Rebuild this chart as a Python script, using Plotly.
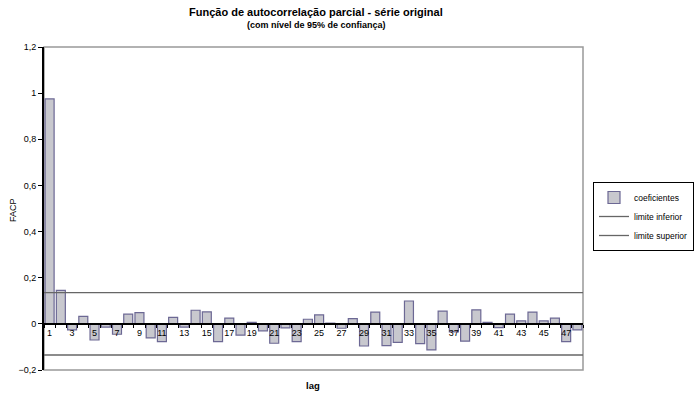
import plotly.graph_objects as go

lags = list(range(1, 49))
coeficientes = [0.975, 0.145, -0.026, 0.032, -0.070, -0.014, -0.045, 0.042, 0.049, -0.061,
                -0.077, 0.028, -0.014, 0.059, 0.052, -0.077, 0.025, -0.049, 0.006, -0.030,
                -0.084, -0.017, -0.077, 0.020, 0.039, 0.003, -0.019, 0.023, -0.096, 0.051,
                -0.094, -0.080, 0.099, -0.086, -0.113, 0.055, -0.035, -0.075, 0.061, 0.006,
                -0.016, 0.042, 0.013, 0.051, 0.013, 0.025, -0.077, -0.026]
limite_inferior = -0.135
limite_superior = 0.135
tick_lags = [l for l in lags if l % 2 == 1]
y_ticks = [-0.2, 0, 0.2, 0.4, 0.6, 0.8, 1, 1.2]

x_span = [lags[0] - 0.5, lags[-1] + 0.5]

fig = go.Figure()
fig.add_trace(go.Bar(
    x=lags, y=coeficientes, name="coeficientes", width=0.8,
    marker=dict(color="#C8C8CE", line=dict(color="#6C6894", width=1.2)),
))
fig.add_trace(go.Scatter(
    x=x_span, y=[limite_inferior] * 2, mode="lines", name="limite inferior",
    line=dict(color="#666666", width=1.3),
))
fig.add_trace(go.Scatter(
    x=x_span, y=[limite_superior] * 2, mode="lines", name="limite superior",
    line=dict(color="#666666", width=1.3),
))

H = 370 - 47
W = 583 - 44
zero_pos = (0 - (-0.2)) / 1.4

fig.update_layout(
    width=696, height=398,
    margin=dict(l=44, r=113, t=47, b=28, autoexpand=False),
    paper_bgcolor="white", plot_bgcolor="white",
    separators=",.",
    font=dict(family="Liberation Sans, Arial, sans-serif", size=9, color="black"),
    showlegend=True,
    legend=dict(x=(593 - 44) / W, y=1 - (182 - 47) / H, xanchor="left", yanchor="top",
                bordercolor="black", borderwidth=1, bgcolor="white",
                font=dict(size=8.5), itemwidth=30, tracegroupgap=0),
    xaxis=dict(range=x_span, tickmode="array", tickvals=tick_lags,
               ticktext=[str(t) for t in tick_lags], automargin=False,
               anchor="free", position=zero_pos, showgrid=False, zeroline=False,
               showline=True, linecolor="black", linewidth=2,
               ticks="", tickfont=dict(size=9),
               minor=dict(tickmode="linear", tick0=x_span[0], dtick=1,
                          ticks="outside", ticklen=3, tickcolor="black", showgrid=False)),
    yaxis=dict(range=[-0.2, 1.2], tickmode="array", tickvals=y_ticks, automargin=False,
               showgrid=False, zeroline=False, showline=True, linecolor="black",
               linewidth=2, ticks="outside", ticklen=4, tickcolor="black",
               tickfont=dict(size=9)),
    shapes=[dict(type="rect", xref="paper", yref="paper", x0=0, x1=1, y0=0, y1=1,
                 line=dict(color="#999999", width=1.5), layer="below")],
    annotations=[
        dict(text="<b>Função de autocorrelação parcial - série original</b>",
             xref="paper", yref="paper", x=(316 - 44) / W, y=1 + (47 - 12) / H,
             xanchor="center", yanchor="middle", showarrow=False,
             font=dict(size=11)),
        dict(text="<b>(com nível de 95% de confiança)</b>",
             xref="paper", yref="paper", x=(316 - 44) / W, y=1 + (47 - 25) / H,
             xanchor="center", yanchor="middle", showarrow=False,
             font=dict(size=9)),
        dict(text="<b>lag</b>", xref="paper", yref="paper",
             x=(313 - 44) / W, y=-(385 - 370) / H,
             xanchor="center", yanchor="middle", showarrow=False,
             font=dict(size=9.5)),
        dict(text="FACP", xref="paper", yref="paper",
             x=-(44 - 13) / W, y=(370 - 210) / H, textangle=-90,
             xanchor="center", yanchor="middle", showarrow=False,
             font=dict(size=9)),
    ],
)

fig.write_html("out.html", config={"displayModeBar": False},
               post_script="document.body.style.margin='0';document.body.style.overflow='hidden';")
